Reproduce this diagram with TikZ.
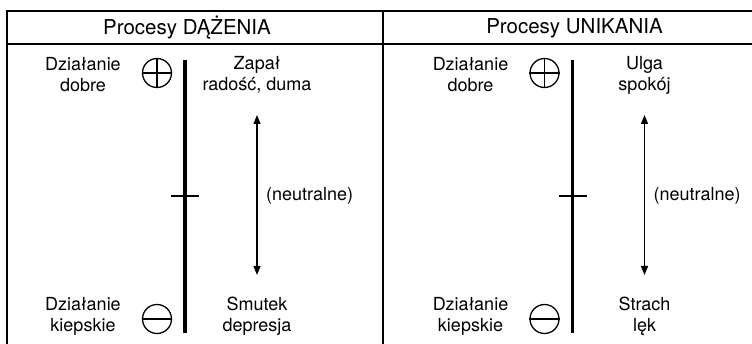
\documentclass[tikz,border=0pt]{standalone}
\usepackage{fontspec}
\setmainfont{TeX Gyre Heros}
\usetikzlibrary{arrows.meta}

\tikzset{
  lbl/.style={align=center, inner sep=0pt, font=\fontsize{18}{21}\selectfont},
  head/.style={inner sep=0pt, font=\fontsize{20.5}{24}\selectfont},
  sign/.style={circle, draw, line width=1.3pt, minimum size=29pt, inner sep=0pt},
}

\begin{document}
\begin{tikzpicture}[>={Stealth[length=9pt, width=7pt, inset=0pt]}, x=1pt, y=-1pt]
    \useasboundingbox (0,0) rectangle (752,344);
    % ramka
    \draw[line width=2pt] (7,344) -- (7,11) -- (752,11);
    \draw[line width=2pt] (7,44) -- (752,44);
    \draw[line width=2pt] (383,11) -- (383,344);
    \foreach \i/\o/\title/\good/\bad in {%
        1/0/{Procesy DĄŻENIA}/{Zapał\\radość, duma}/{Smutek\\depresja},%
        2/387.5/{Procesy UNIKANIA}/{Ulga\\spokój}/{Strach\\lęk}} {
        \begin{scope}[xshift=\o]
            \node[head] (title\i) at (187,28) {\title};
            % os
            \coordinate (top\i) at (185,60);
            \coordinate (bot\i) at (185,333);
            \draw[line width=3.5pt] (top\i) -- (bot\i);
            \coordinate (tl\i) at (171,196);
            \coordinate (tr\i) at (199,196);
            \draw[line width=1.3pt] (tl\i) -- (tr\i);
            % plus / minus
            \node[sign] (plus\i) at (157,73) {};
            \draw[line width=1.3pt] (plus\i.north) -- (plus\i.south) (plus\i.west) -- (plus\i.east);
            \node[sign] (minus\i) at (157,319) {};
            \draw[line width=1.3pt] (minus\i.west) -- (minus\i.east);
            \node[lbl] (dobre\i) at (83,75) {Działanie\\dobre};
            \node[lbl] (kiep\i) at (83,316) {Działanie\\kiepskie};
            \node[lbl] (good\i) at (257,75) {\good};
            \node[lbl] (bad\i) at (257,316) {\bad};
            % strzalka
            \coordinate (up\i) at (257,115);
            \coordinate (dn\i) at (257,275);
            \draw[<->, line width=1.2pt] (up\i) -- (dn\i);
            \node[lbl, anchor=west] (neu\i) at (266,196) {(neutralne)};
        \end{scope}
    }
\end{tikzpicture}
\end{document}
